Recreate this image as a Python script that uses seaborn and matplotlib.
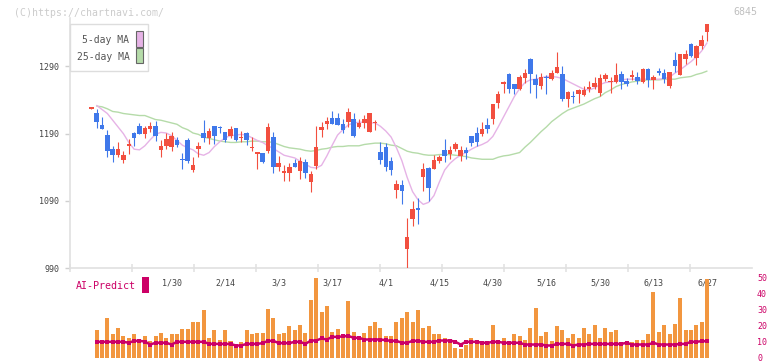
import numpy as np
import pandas as pd
import matplotlib
matplotlib.use("Agg")
import matplotlib.pyplot as plt
import seaborn as sns
from matplotlib.patches import Rectangle

sns.set_theme(style="white")
plt.rcParams['font.family'] = ['DejaVu Sans Mono', 'DejaVu Sans']

# ---------------- data ----------------
opens = [1228,1221,1203,1188,1167,1159,1151,1171,1191,1201,
         1190,1197,1201,1166,1171,1170,1181,1152,1180,1136,
         1167,1191,1183,1201,1200,1192,1186,1198,1184,1191,
         1169,1161,1162,1165,1185,1140,1133,1132,1146,1135,
         1148,1118,1142,1195,1205,1213,1214,1204,1207,1212,
         1200,1206,1193,1206,1163,1170,1150,1106,1114,1019,
         1063,1079,1125,1139,1138,1150,1166,1160,1168,1157,
         1166,1186,1191,1190,1203,1212,1235,1264,1279,1264,
         1257,1273,1301,1271,1261,1274,1272,1280,1279,1241,
         1246,1249,1248,1257,1259,1250,1272,1267,1267,1279,
         1268,1275,1274,1267,1286,1270,1283,1280,1261,1300,
         1277,1301,1324,1303,1320,1341]
highs = [1229,1227,1215,1196,1171,1178,1164,1182,1193,1206,
         1201,1207,1209,1181,1191,1192,1185,1162,1183,1155,
         1178,1210,1198,1202,1202,1193,1201,1199,1194,1193,
         1185,1163,1162,1206,1192,1157,1144,1146,1152,1155,
         1152,1135,1202,1207,1215,1224,1221,1212,1228,1221,
         1212,1218,1221,1211,1177,1176,1155,1121,1121,1064,
         1090,1095,1146,1140,1159,1159,1182,1172,1178,1172,
         1170,1187,1200,1207,1214,1234,1253,1268,1280,1264,
         1277,1286,1302,1279,1280,1277,1285,1311,1291,1253,
         1253,1257,1261,1268,1274,1279,1280,1274,1295,1283,
         1273,1285,1282,1287,1287,1277,1288,1286,1282,1311,
         1309,1314,1325,1322,1337,1353]
lows = [1227,1199,1197,1156,1148,1156,1147,1160,1171,1189,
        1183,1193,1179,1156,1167,1165,1170,1137,1147,1133,
        1156,1177,1174,1174,1191,1177,1183,1179,1177,1173,
        1165,1138,1147,1161,1131,1134,1120,1119,1140,1123,
        1124,1103,1137,1185,1197,1204,1203,1191,1200,1185,
        1199,1199,1193,1196,1145,1134,1129,1095,1086,985,
        1053,1056,1105,1090,1138,1146,1148,1152,1165,1150,
        1152,1171,1172,1186,1191,1204,1228,1250,1251,1249,
        1255,1265,1251,1243,1257,1249,1270,1280,1239,1230,
        1236,1236,1246,1252,1257,1246,1269,1251,1266,1257,
        1261,1270,1264,1266,1260,1257,1277,1265,1258,1282,
        1277,1294,1304,1292,1316,1328]
closes = [1229,1207,1197,1164,1159,1167,1159,1175,1184,1190,
          1198,1201,1186,1172,1182,1187,1173,1151,1150,1143,
          1171,1184,1194,1187,1199,1180,1197,1180,1185,1180,
          1170,1162,1148,1200,1140,1147,1134,1140,1141,1150,
          1132,1130,1170,1200,1209,1205,1203,1196,1222,1186,
          1206,1212,1221,1207,1151,1140,1136,1115,1105,1036,
          1078,1078,1138,1110,1151,1156,1157,1166,1175,1166,
          1162,1176,1177,1197,1197,1234,1249,1267,1257,1257,
          1274,1280,1278,1263,1274,1273,1280,1289,1242,1252,
          1245,1255,1255,1258,1265,1273,1277,1268,1277,1267,
          1264,1276,1268,1286,1270,1274,1280,1272,1282,1291,
          1308,1308,1305,1320,1329,1353]
nan = np.nan
ma5 = [nan,1232,1226,1220,1210,1200,1190,1177,1167,1166,
       1172,1181,1189,1192,1191,1187,1180,1173,1169,1166,
       1160,1158,1162,1171,1178,1184,1187,1188,1189,1188,
       1184,1180,1177,1172,1168,1163,1158,1156,1154,1149,
       1145,1140,1139,1143,1157,1173,1188,1196,1203,1206,
       1207,1207,1206,1206,1201,1194,1185,1169,1150,1125,
       1104,1092,1085,1088,1098,1118,1136,1146,1153,1158,
       1162,1167,1171,1174,1178,1186,1200,1215,1230,1245,
       1257,1266,1270,1271,1273,1275,1275,1274,1272,1268,
       1264,1260,1256,1255,1258,1263,1266,1267,1268,1270,
       1271,1271,1271,1271,1271,1271,1271,1272,1274,1280,
       1285,1291,1297,1304,1313,1325]
ma25 = [nan,1231,1230,1227,1223,1222,1220,1219,1218,1217,
        1217,1214,1211,1210,1208,1206,1204,1199,1196,1191,
        1189,1185,1183,1181,1179,1178,1177,1177,1178,1178,
        1179,1179,1178,1178,1177,1174,1171,1169,1168,1167,
        1165,1164,1165,1167,1168,1170,1171,1171,1172,1172,
        1172,1174,1175,1176,1176,1175,1173,1172,1168,1164,
        1162,1161,1159,1158,1158,1159,1159,1159,1158,1157,
        1156,1154,1153,1152,1152,1152,1155,1157,1158,1160,
        1162,1170,1177,1185,1193,1200,1208,1214,1220,1225,
        1228,1231,1234,1238,1242,1245,1251,1255,1260,1263,
        1265,1267,1268,1269,1270,1270,1270,1271,1271,1271,
        1273,1274,1275,1278,1280,1283]
volume = [17.5, 9.8, 24.4, 14.4, 18.75, 13.75, 12.5, 14.4, 9.8, 13.75,
          10.6, 13.75, 15.6, 11.9, 15, 15, 18.1, 18.1, 22.5, 21.9,
          30, 12.5, 16.9, 11.25, 16.9, 10.6, 7.5, 9.4, 16.9, 15,
          15.6, 15.6, 30.6, 24.4, 15, 15.6, 19.4, 17.5, 20.6, 15.6,
          36.25, 49.4, 28.75, 31.9, 16.25, 18.1, 13.1, 35.6, 16.25, 13.75,
          15.6, 19.4, 22.5, 18.75, 13.75, 13.75, 22.5, 25, 28.75, 22.5,
          29.4, 18.75, 20, 15, 15, 12.5, 10.6, 6.25, 5.6, 8.1,
          12.5, 10, 10, 10, 20.6, 10.6, 12.5, 10.6, 15, 13.75,
          11.25, 18.75, 31.25, 13.75, 16.25, 10.6, 20, 16.9, 12.5, 15,
          12.5, 18.75, 14.4, 20.6, 11.9, 18.75, 16.25, 16.9, 10, 10.6,
          10, 11.25, 11.25, 14.4, 41.25, 16.25, 20.6, 15, 21.25, 37.5,
          17.5, 16.9, 20.6, 22.5, 49.2]
ai_predict = [9.8,9.8,9.8,9.8,9.8,9.8,9.2,10.4,10.4,10.0,
              8.1,9.2,9.2,9.2,8.1,9.8,9.8,9.8,9.8,9.8,
              9.8,8.5,8.5,8.5,8.5,8.5,7.5,7.5,8.5,8.5,
              8.5,9.0,10.4,10.4,9.0,9.0,9.0,9.8,9.8,8.5,
              10.6,10.6,11.9,11.25,12.9,12.9,13.2,13.5,12.3,12.3,
              11.25,11.25,11.25,11.25,10.8,10.4,10.4,9.2,9.2,10.4,
              10.4,9.8,9.8,9.8,10.6,10.6,10.6,9.8,8.1,9.8,
              9.8,9.8,9.2,9.2,9.8,9.8,9.2,9.2,9.2,9.2,
              8.1,8.1,8.1,8.1,7.5,7.5,8.5,8.5,8.5,7.5,
              8.1,8.1,8.5,8.5,8.5,8.5,8.5,8.5,8.5,9.2,
              8.1,8.1,8.1,8.1,9.2,8.1,8.1,8.1,8.1,8.5,
              8.5,9.8,9.8,10.2,10.2]
date_labels = ['1/30', '2/14', '3/3', '3/17', '4/1', '4/15',
               '4/30', '5/16', '5/30', '6/13', '6/27']
date_index = [15, 25, 35, 45, 55, 65, 75, 85, 95, 105, 115]
price_ticks = [990, 1090, 1190, 1290]
vol_ticks = [0, 10, 20, 30, 40, 50]

# ---------------- styling ----------------
RED = '#f24f3f'
BLUE = '#3f78ea'
PINK = '#e6b3e6'
GREEN = '#b5dba9'
ORANGE = '#f2963f'
MAGENTA = '#cc0066'
AXIS = '#e0e0e0'
TXT = '#444444'

W, H = 772, 361
fig = plt.figure(figsize=(W / 100, H / 100), dpi=100)
fig.patch.set_facecolor('white')

def fx(x):
    return x / W

def fy(y):
    return 1 - y / H

X0, X1 = 70, 752
Y_BOT, Y_TOP = 268.3, 18
PX_PER_PRICE = 0.673
XSTEP, XFIRST = 5.354, 91.3

ax = fig.add_axes([fx(X0), fy(Y_BOT), (X1 - X0) / W, (Y_BOT - Y_TOP) / H])
axv = fig.add_axes([fx(X0), fy(357.5), (X1 - X0) / W, 83.2 / H])

xlim = ((X0 - XFIRST) / XSTEP, (X1 - XFIRST) / XSTEP)

df = pd.DataFrame({'open': opens, 'high': highs, 'low': lows, 'close': closes,
                   'ma5': ma5, 'ma25': ma25})
df['x'] = np.arange(len(df))

# moving averages (seaborn)
sns.lineplot(data=df, x='x', y='ma25', ax=ax, color=GREEN, linewidth=1.0, zorder=2)
sns.lineplot(data=df, x='x', y='ma5', ax=ax, color=PINK, linewidth=1.0, zorder=2)

# candles
up = df['close'] >= df['open']
colors = np.where(up, RED, BLUE)
min_body = 1.6 / PX_PER_PRICE
body_lo = np.minimum(df['open'], df['close']).astype(float)
body_h = (df['close'] - df['open']).abs().astype(float)
small = body_h < min_body
mid = (df['open'] + df['close']) / 2
body_lo = np.where(small, mid - min_body / 2, body_lo)
body_h = np.where(small, min_body, body_h)
ax.vlines(df['x'], df['low'], df['high'], colors=colors, linewidth=0.8, zorder=3)
ax.bar(df['x'], body_h, bottom=body_lo, width=0.84, color=colors, linewidth=0, zorder=4)

ax.set_xlim(*xlim)
ax.set_ylim(990, 990 + (Y_BOT - Y_TOP) / PX_PER_PRICE)
ax.set_xlabel('')
ax.set_ylabel('')
ax.set_facecolor('none')
for s in ['top', 'right']:
    ax.spines[s].set_visible(False)
for s in ['left', 'bottom']:
    ax.spines[s].set_color(AXIS)
    ax.spines[s].set_linewidth(1.2)

ax.set_yticks(price_ticks)
ax.set_yticklabels([str(v) for v in price_ticks])
ax.tick_params(axis='y', length=3.6, width=1.0, color='#d0d0d0', labelsize=6,
               labelcolor=TXT, pad=4, left=True)
ax.set_xticks(date_index)
ax.set_xticklabels(date_labels)
ax.tick_params(axis='x', which='major', length=0, pad=7, labelsize=6, labelcolor=TXT)
minor_px = [70 + 62 * k for k in range(11)]
ax.set_xticks([(p - XFIRST) / XSTEP for p in minor_px], minor=True)
ax.tick_params(axis='x', which='minor', length=6, width=1.1, direction='inout',
               color=AXIS, bottom=True)

# volume panel
vx = np.arange(1, len(volume) + 1)
axv.bar(vx, volume, width=0.75, color=ORANGE, linewidth=0, zorder=2)
vdf = pd.DataFrame({'x': vx, 'ai': ai_predict})
sns.lineplot(data=vdf, x='x', y='ai', ax=axv, color=MAGENTA, linewidth=1.8,
             marker='s', markersize=2.6, markeredgewidth=0, zorder=3)
axv.set_xlim(*xlim)
axv.set_ylim(0, 52)
axv.set_facecolor('none')
for s in axv.spines.values():
    s.set_visible(False)
axv.set_xticks([])
axv.set_xlabel('')
axv.set_ylabel('')
axv.yaxis.tick_right()
axv.set_yticks(vol_ticks)
axv.set_yticklabels([str(v) for v in vol_ticks])
axv.tick_params(axis='y', length=0, pad=3.6, labelsize=6, labelcolor=MAGENTA,
                left=False, right=False, labelleft=False, labelright=True)

# legend box (drawn manually)
fig.patches.append(Rectangle((fx(70), fy(71)), 78.3 / W, 47 / H, transform=fig.transFigure,
                             facecolor='white', edgecolor='#dddddd', linewidth=1.0, zorder=5))
fig.patches.append(Rectangle((fx(136.3), fy(46.5)), 6.3 / W, 15.5 / H, transform=fig.transFigure,
                             facecolor=PINK, edgecolor='#666666', linewidth=0.8, zorder=6))
fig.patches.append(Rectangle((fx(136.3), fy(63.3)), 6.3 / W, 15.0 / H, transform=fig.transFigure,
                             facecolor=GREEN, edgecolor='#666666', linewidth=0.8, zorder=6))
fig.text(fx(129.5), fy(40), '5-day MA', ha='right', va='center', fontsize=7,
         color='#555555', zorder=7)
fig.text(fx(129.5), fy(56.7), '25-day MA', ha='right', va='center', fontsize=7,
         color='#555555', zorder=7)

# watermark, code
fig.text(fx(14), fy(12.5), '(C)https://chartnavi.com/', ha='left', va='center',
         fontsize=7.1, color='#cccccc')
fig.text(fx(757.5), fy(12), '6845', ha='right', va='center', fontsize=7.2, color='#c0c0c0')

# AI-Predict label
fig.text(fx(75.5), fy(286), 'AI-Predict', ha='left', va='center', fontsize=7.2, color=MAGENTA)
fig.patches.append(Rectangle((fx(142.3), fy(292.7)), 6.4 / W, 16 / H, transform=fig.transFigure,
                             facecolor=MAGENTA, edgecolor='none', zorder=5))

fig.savefig('out.png', dpi=100, facecolor='white')
